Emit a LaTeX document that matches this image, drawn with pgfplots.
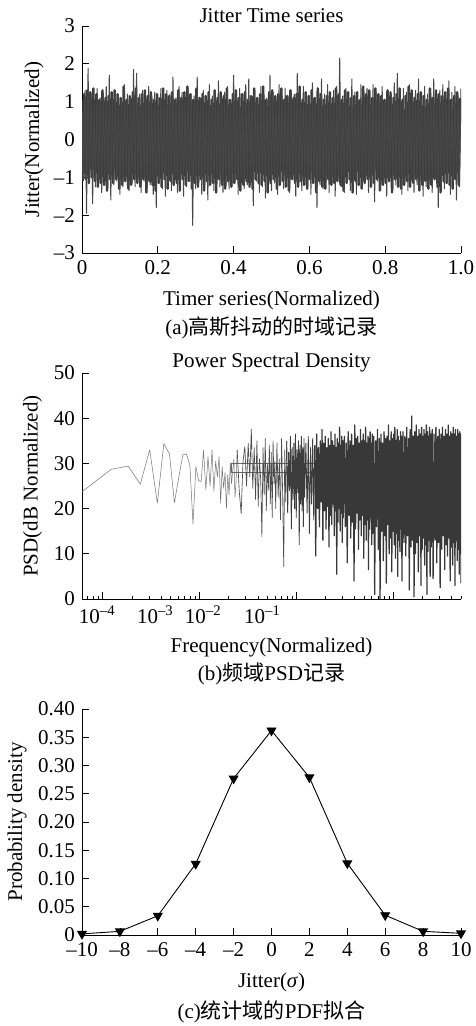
\documentclass[border=0pt]{standalone}
\usepackage{fontspec}
\setmainfont{Liberation Serif}
\newfontfamily\cjk{Noto Sans CJK SC}
\usepackage{pgfplots}
\pgfplotsset{compat=1.18}
\pgfplotsset{
  base/.style={scale only axis, width=379pt,
    axis x line=bottom, axis y line=left, axis line style={-, line width=0.7pt},
    tick align=inside, major tick length=7pt, minor tick length=3.5pt,
    tick style={black, line width=0.7pt},
    xlabel style={at={(axis description cs:0.5,0)}, anchor=center},
  }
}
\begin{document}
\fontsize{21}{25}\selectfont
\begin{tikzpicture}
\useasboundingbox (0pt,0pt) rectangle (476pt,-1026pt);
% ---------------- (a)
\begin{axis}[base, at={(82pt,-253pt)}, anchor=south west, height=227pt,
  xmin=0, xmax=1, ymin=-3, ymax=3,
  xtick={0,0.2,0.4,0.6,0.8,1}, xticklabels={0,0.2,0.4,0.6,0.8,1.0},
  ytick={-3,-2,-1,0,1,2,3}, yticklabels={–3,–2,–1,0,1,2,3},
  xlabel={Timer series(Normalized)}, xlabel style={yshift=-47pt},
  ylabel={Jitter(Normalized)}, ylabel style={at={(axis description cs:-0.1266,0.5)}, anchor=center},
]
\addplot[black!76, line width=2.4pt, line join=round] coordinates {
(0.002,-1.10)(0.006,1.20)(0.010,-1.05)(0.014,1.30)(0.018,-1.15)(0.022,1.25)(0.026,-1.00)(0.030,1.35)(0.034,-1.10)(0.038,1.20)
(0.042,-1.25)(0.046,1.05)(0.050,-1.15)(0.054,1.30)(0.058,-1.20)(0.062,1.10)(0.066,-1.35)(0.070,1.15)(0.074,-1.05)(0.078,1.25)
(0.082,-1.15)(0.086,1.30)(0.090,-1.05)(0.094,1.20)(0.098,-1.30)(0.102,1.10)(0.106,-1.20)(0.110,1.40)(0.114,-1.10)(0.118,1.05)
(0.122,-1.30)(0.126,1.15)(0.130,-1.20)(0.134,1.25)(0.138,-1.05)(0.142,1.35)(0.146,-1.15)(0.150,1.10)(0.154,-1.25)(0.158,1.20)
(0.162,-1.05)(0.166,1.30)(0.170,-1.40)(0.174,1.15)(0.178,-1.10)(0.182,1.25)(0.186,-1.20)(0.190,1.05)(0.194,-1.35)(0.198,1.20)
(0.202,-1.15)(0.206,1.10)(0.210,-1.25)(0.214,1.35)(0.218,-1.05)(0.222,1.20)(0.226,-1.30)(0.230,1.15)(0.234,-1.10)(0.238,1.25)
(0.242,-1.20)(0.246,1.05)(0.250,-1.15)(0.254,1.30)(0.258,-1.35)(0.262,1.10)(0.266,-1.05)(0.270,1.25)(0.274,-1.20)(0.278,1.40)
(0.282,-1.10)(0.286,1.20)(0.290,-1.30)(0.294,1.05)(0.298,-1.15)(0.302,1.35)(0.306,-1.25)(0.310,1.10)(0.314,-1.05)(0.318,1.20)
(0.322,-1.35)(0.326,1.15)(0.330,-1.10)(0.334,1.25)(0.338,-1.20)(0.342,1.05)(0.346,-1.15)(0.350,1.30)(0.354,-1.40)(0.358,1.10)
(0.362,-1.05)(0.366,1.25)(0.370,-1.20)(0.374,1.15)(0.378,-1.30)(0.382,1.35)(0.386,-1.10)(0.390,1.05)(0.394,-1.25)(0.398,1.20)
(0.402,-1.15)(0.406,1.30)(0.410,-1.05)(0.414,1.10)(0.418,-1.35)(0.422,1.20)(0.426,-1.20)(0.430,1.25)(0.434,-1.10)(0.438,1.05)
(0.442,-1.25)(0.446,1.15)(0.450,-1.30)(0.454,1.35)(0.458,-1.05)(0.462,1.10)(0.466,-1.15)(0.470,1.20)(0.474,-1.20)(0.478,1.40)
(0.482,-1.10)(0.486,1.05)(0.490,-1.40)(0.494,1.25)(0.498,-1.15)(0.502,1.30)(0.506,-1.05)(0.510,1.15)(0.514,-1.30)(0.518,1.20)
(0.522,-1.20)(0.526,1.35)(0.530,-1.10)(0.534,1.05)(0.538,-1.25)(0.542,1.15)(0.546,-1.35)(0.550,1.30)(0.554,-1.05)(0.558,1.10)
(0.562,-1.15)(0.566,1.20)(0.570,-1.25)(0.574,1.40)(0.578,-1.10)(0.582,1.05)(0.586,-1.20)(0.590,1.25)(0.594,-1.30)(0.598,1.15)
(0.602,-1.05)(0.606,1.30)(0.610,-1.15)(0.614,1.10)(0.618,-1.40)(0.622,1.35)(0.626,-1.10)(0.630,1.20)(0.634,-1.25)(0.638,1.05)
(0.642,-1.30)(0.646,1.15)(0.650,-1.05)(0.654,1.25)(0.658,-1.20)(0.662,1.10)(0.666,-1.15)(0.670,1.35)(0.674,-1.10)(0.678,1.20)
(0.682,-1.20)(0.686,1.05)(0.690,-1.35)(0.694,1.30)(0.698,-1.15)(0.702,1.25)(0.706,-1.05)(0.710,1.10)(0.714,-1.40)(0.718,1.15)
(0.722,-1.10)(0.726,1.25)(0.730,-1.20)(0.734,1.05)(0.738,-1.30)(0.742,1.40)(0.746,-1.15)(0.750,1.20)(0.754,-1.05)(0.758,1.30)
(0.762,-1.25)(0.766,1.10)(0.770,-1.15)(0.774,1.35)(0.778,-1.05)(0.782,1.20)(0.786,-1.35)(0.790,1.15)(0.794,-1.20)(0.798,1.05)
(0.802,-1.15)(0.806,1.30)(0.810,-1.10)(0.814,1.25)(0.818,-1.40)(0.822,1.10)(0.826,-1.05)(0.830,1.20)(0.834,-1.25)(0.838,1.35)
(0.842,-1.30)(0.846,1.05)(0.850,-1.20)(0.854,1.15)(0.858,-1.10)(0.862,1.40)(0.866,-1.25)(0.870,1.30)(0.874,-1.15)(0.878,1.10)
(0.882,-1.05)(0.886,1.20)(0.890,-1.35)(0.894,1.25)(0.898,-1.20)(0.902,1.15)(0.906,-1.10)(0.910,1.05)(0.914,-1.30)(0.918,1.35)
(0.922,-1.20)(0.926,1.10)(0.930,-1.05)(0.934,1.30)(0.938,-1.25)(0.942,1.20)(0.946,-1.40)(0.950,1.15)(0.954,-1.10)(0.958,1.25)
(0.962,-1.15)(0.966,1.35)(0.970,-1.20)(0.974,1.05)(0.978,-1.30)(0.982,1.15)(0.986,-1.05)(0.990,1.25)(0.994,-1.20)(0.998,1.10)};
\addplot[black!72, line width=1.0pt, line join=round] coordinates {
(0,1.05)(0.004,-0.95)(0.008,1.30)(0.012,-1.95)(0.016,1.89)(0.02,-1.10)(0.024,1.20)(0.028,-1.70)(0.032,0.95)(0.036,-1.25)
(0.04,1.35)(0.044,-1.05)(0.048,1.10)(0.052,-1.40)(0.056,1.25)(0.06,-0.98)(0.064,1.40)(0.068,-1.30)(0.072,1.70)(0.076,-1.60)
(0.08,1.05)(0.084,-1.20)(0.088,1.30)(0.092,-1.10)(0.096,1.15)(0.1,-1.45)(0.104,1.00)(0.108,-1.25)(0.112,1.45)(0.116,-1.05)
(0.12,1.20)(0.124,-1.35)(0.128,1.10)(0.132,-1.15)(0.136,1.85)(0.14,-1.25)(0.144,1.75)(0.148,-1.05)(0.152,1.20)(0.156,-1.40)
(0.16,1.30)(0.164,-1.10)(0.168,1.05)(0.172,-1.30)(0.176,1.40)(0.18,-1.20)(0.184,1.15)(0.188,-1.45)(0.192,1.25)(0.196,-1.80)
(0.2,1.10)(0.204,-1.15)(0.208,1.35)(0.212,-1.30)(0.216,1.05)(0.22,-1.50)(0.224,1.30)(0.228,-1.10)(0.232,1.20)(0.236,-1.35)
(0.24,1.65)(0.244,-1.20)(0.248,1.10)(0.252,-1.40)(0.256,1.40)(0.26,-1.05)(0.264,1.25)(0.268,-1.50)(0.272,1.05)(0.276,-1.25)
(0.28,1.35)(0.284,-1.10)(0.288,1.20)(0.292,-2.27)(0.296,1.15)(0.3,-1.30)(0.304,1.65)(0.308,-1.15)(0.312,1.10)(0.316,-1.45)
(0.32,1.30)(0.324,-1.20)(0.328,1.05)(0.332,-1.60)(0.336,1.45)(0.34,-1.10)(0.344,1.15)(0.348,-1.35)(0.352,1.30)(0.356,-1.05)
(0.36,1.55)(0.364,-1.25)(0.368,1.10)(0.372,-1.40)(0.376,1.25)(0.38,-1.15)(0.384,1.40)(0.388,-1.30)(0.392,1.05)(0.396,-1.20)
(0.4,1.70)(0.404,-1.10)(0.408,1.20)(0.412,-1.45)(0.416,1.35)(0.42,-1.05)(0.424,1.10)(0.428,-1.30)(0.432,1.45)(0.436,-1.20)
(0.44,1.60)(0.444,-1.15)(0.448,1.15)(0.452,-1.75)(0.456,1.30)(0.46,-1.10)(0.464,1.05)(0.468,-1.40)(0.472,1.40)(0.476,-1.25)
(0.48,1.20)(0.484,-1.55)(0.488,1.10)(0.492,-1.05)(0.496,1.70)(0.5,-1.35)(0.504,1.25)(0.508,-1.15)(0.512,1.05)(0.516,-1.45)
(0.52,1.45)(0.524,-1.10)(0.528,1.15)(0.532,-1.30)(0.536,1.35)(0.54,-1.20)(0.544,1.10)(0.548,-1.40)(0.552,1.30)(0.556,-1.05)
(0.56,1.20)(0.564,-1.50)(0.568,1.75)(0.572,-1.15)(0.576,1.05)(0.58,-1.35)(0.584,1.40)(0.588,-1.10)(0.592,1.25)(0.596,-1.25)
(0.6,1.15)(0.604,-1.45)(0.608,1.50)(0.612,-1.05)(0.616,1.10)(0.62,-1.80)(0.624,1.35)(0.628,-1.20)(0.632,1.60)(0.636,-1.30)
(0.64,1.20)(0.644,-1.10)(0.648,1.45)(0.652,-1.40)(0.656,1.05)(0.66,-1.15)(0.664,1.30)(0.668,-1.50)(0.672,1.40)(0.676,-1.05)
(0.68,2.15)(0.684,-1.25)(0.688,1.15)(0.692,-1.40)(0.696,1.35)(0.7,-1.10)(0.704,1.10)(0.708,-1.35)(0.712,1.60)(0.716,-1.20)
(0.72,1.25)(0.724,-1.45)(0.728,1.05)(0.732,-1.15)(0.736,1.45)(0.74,-1.30)(0.744,1.20)(0.748,-1.05)(0.752,1.35)(0.756,-1.40)
(0.76,1.10)(0.764,-1.20)(0.768,1.45)(0.772,-1.65)(0.776,1.25)(0.78,-1.10)(0.784,1.15)(0.788,-1.35)(0.792,1.40)(0.796,-1.15)
(0.8,1.05)(0.804,-1.50)(0.808,1.30)(0.812,-1.05)(0.816,1.20)(0.82,-1.30)(0.824,1.50)(0.828,-1.20)(0.832,1.75)(0.836,-1.10)
(0.84,1.10)(0.844,-1.45)(0.848,1.35)(0.852,-1.15)(0.856,1.25)(0.86,-1.35)(0.864,1.45)(0.868,-1.05)(0.872,1.15)(0.876,-1.40)
(0.88,1.30)(0.884,-1.20)(0.888,1.60)(0.892,-1.10)(0.896,1.05)(0.9,-1.50)(0.904,1.40)(0.908,-1.25)(0.912,1.20)(0.916,-1.15)
(0.92,1.35)(0.924,-1.40)(0.928,1.60)(0.932,-1.05)(0.936,1.15)(0.94,-1.80)(0.944,1.30)(0.948,-1.20)(0.952,1.45)(0.956,-1.30)
(0.96,1.10)(0.964,-1.15)(0.968,1.55)(0.972,-1.45)(0.976,1.25)(0.98,-1.10)(0.984,1.40)(0.988,-1.60)(0.992,1.20)(0.996,-1.25)
(1.0,1.35)};
\end{axis}
% ---------------- (b)
\begin{axis}[base, at={(82pt,-599pt)}, anchor=south west, height=226pt,
  xmode=log, xmin=1, xmax=8192, ymin=0, ymax=50,
  xtick={1.6384,16.384,163.84,1638.4}, xticklabels={,,,},
  minor xtick={1.147,1.311,1.475,3.277,4.915,6.554,8.192,9.830,11.469,13.107,14.746,32.77,49.15,65.54,81.92,98.30,114.69,131.07,147.46,327.7,491.5,655.4,819.2,983.0,1146.9,1310.7,1474.6,3276.8,4915.2,6553.6,8192},
  extra x ticks={1.43,5.69,17.8,72.7},
  extra x tick labels={10\textsuperscript{–4},10\textsuperscript{–3},10\textsuperscript{–2},10\textsuperscript{–1}},
  extra x tick style={major tick length=0pt},
  ytick={0,10,20,30,40,50}, yticklabels={0,10,20,30,40,50},
  xlabel={Frequency(Normalized)}, xlabel style={yshift=-48pt},
  ylabel={PSD(dB Normalized)}, ylabel style={at={(axis description cs:-0.1306,0.5)}, anchor=center},
]
\addplot[black!55, line width=0.5pt, line join=round] coordinates {
(1,23.7)(2,28.7)(3,29.4)(4,25.4)(5,33.0)(6,21.2)(7,34.4)(8,32.1)(9,21.3)(10,27.0)
(11,31.9)(12,32.1)(13,29.5)(14,16.6)(15,29.3)(16,26.2)(17,26.0)(18,32.9)(19,24.1)(20,31.5)
(21,25.0)(22,33.0)(23,23.8)(24,30.5)(25,27.0)(26,31.5)(27,21.2)(28,29.3)(29,24.5)(30,28.0)
(31,20.0)(32,27.5)(33,23.0)(34,30.2)(35,25.5)(36,28.5)(37,31.0)(38,22.5)(39,26.0)(40,33.0)};
\addplot[black!60, line width=0.5pt] coordinates {(367,30.1)(34.7,30.1)(34.7,28.1)(367,28.1)};
\addplot[black!70, line width=0.65pt, line join=round] coordinates {
(40,33.0)(42,24.0)(44,18.9)(46,30.5)(48,33.7)(50,25.0)(52,34.5)(54,27.0)(56,37.6)(58,24.5)(60,33.5)
(62,22.0)(64,35.0)(66,20.5)(68,31.0)(70,26.5)(72,13.8)(74,33.5)(76,23.0)(78,35.5)(80,19.5)
(82,30.0)(84,24.0)(86,34.0)(88,21.0)(90,32.5)(92,18.0)(94,35.0)(96,25.5)(98,30.5)(100,20.0)
(103,34.5)(106,22.5)(109,31.0)(112,17.5)(115,35.5)(118,23.0)(121,7.2)(124,33.0)(127,21.5)(130,35.0)};
\addplot[black!76, line width=0.85pt, line join=round] coordinates {
(130,35.0)
(133,19.0)(136,32.5)(139,24.0)(142,36.0)(145,15.5)(148,33.5)(151,22.0)(154,34.5)(157,20.0)(160,36.5)
(163,18.0)(166,33.0)(169,23.5)(172,35.0)(175,12.0)(178,34.0)(181,21.0)(184,36.0)(187,19.5)(190,33.5)
(193,16.0)(196,35.5)(199,22.5)
(205,34.5)(211,19.0)(217,36.0)(223,14.5)(229,33.5)(235,21.0)(241,35.5)(247,17.5)(253,34.0)};
\addplot[black!78, line width=1.25pt, line join=round] coordinates {
(253,34.0)(259,9.5)
(265,36.5)(271,20.0)(277,33.5)(283,16.0)(289,35.0)(295,21.5)(301,37.5)(307,13.0)(313,34.5)(319,19.5)
(325,36.0)(331,15.5)(337,33.5)(343,20.5)(349,35.5)(355,11.5)(361,34.0)(367,18.5)(373,37.0)(379,16.5)
(385,35.0)(391,21.0)(397,34.0)(403,14.0)(409,36.5)(415,19.5)(421,33.5)(427,5.5)(433,35.5)(439,17.0)
(445,34.5)(451,20.0)(457,38.0)(463,15.0)(469,34.0)(475,19.0)(481,36.0)(487,12.5)(493,35.0)(499,18.0)
(512,36.0)(524,16.0)(536,34.5)(548,8.0)(560,37.0)(572,18.5)(584,35.0)(596,13.5)(608,36.5)(620,17.0)
(632,34.0)(644,4.0)(656,38.5)(668,15.5)(680,35.5)(692,19.0)(704,36.0)(716,11.0)(728,34.5)(740,17.5)
(752,37.5)(764,14.0)(776,35.0)(788,18.5)(800,36.5)(812,9.0)(824,35.0)(836,16.5)(848,38.0)(860,13.0)
(872,34.5)(884,17.5)(896,36.0)(908,6.5)(920,35.5)(932,15.5)(944,37.0)(956,18.0)(968,34.5)(980,12.0)
(992,36.5)
(1004,14.5)(1028,36.0)(1052,1.0)(1076,35.0)(1100,16.0)(1124,37.5)(1148,11.0)(1172,35.5)(1196,0.0)(1220,36.5)
(1244,15.0)(1268,34.5)(1292,8.5)(1316,37.0)(1340,14.0)(1364,35.5)(1388,3.5)(1412,36.0)(1436,16.5)(1460,38.5)
(1484,10.0)(1508,35.0)(1532,13.5)(1556,37.0)(1580,6.0)(1604,35.5)(1628,15.0)(1652,36.5)(1676,12.0)(1700,38.0)
(1724,9.0)(1748,35.0)(1772,14.5)(1796,37.5)(1820,5.0)(1844,36.0)(1868,13.0)(1892,35.0)(1916,10.5)(1940,37.0)
(1964,15.5)(1988,36.0)
(2012,4.0)(2060,37.0)(2108,12.5)(2156,36.0)(2204,9.5)(2252,38.0)(2300,14.0)(2348,35.5)(2396,2.0)(2444,37.5)
(2492,11.5)(2540,40.5)(2588,13.0)(2636,36.0)(2684,0.5)(2732,37.0)(2780,10.0)(2828,38.5)(2876,12.5)(2924,36.0)
(2972,6.0)(3020,37.5)(3068,14.0)(3116,36.5)(3164,3.0)(3212,38.0)(3260,11.0)(3308,36.0)(3356,13.5)(3404,37.5)
(3452,7.5)(3500,36.5)(3548,12.0)(3596,38.5)(3644,1.0)(3692,37.0)(3740,10.5)(3788,36.0)(3836,13.0)(3884,38.0)
(3932,5.0)(3980,36.5)
(4028,11.5)(4124,37.5)(4220,4.5)(4316,36.5)(4412,13.0)(4508,38.0)(4604,8.0)(4700,36.0)(4796,12.5)(4892,37.5)
(4988,2.5)(5084,36.5)(5180,11.0)(5276,38.0)(5372,14.0)(5468,36.0)(5564,6.5)(5660,37.5)(5756,12.0)(5852,36.5)
(5948,9.5)(6044,38.5)(6140,13.5)(6236,36.0)(6332,4.0)(6428,37.0)(6524,11.5)(6620,36.5)(6716,7.5)(6812,38.0)
(6908,12.5)(7004,36.5)(7100,3.0)(7196,37.5)(7292,13.0)(7388,36.0)(7484,8.5)(7580,37.5)(7676,11.0)(7772,36.5)
(7868,5.5)(7964,37.0)(8060,12.0)(8156,36.5)(8192,3.5)};
\end{axis}
% ---------------- (c)
\begin{axis}[base, at={(82pt,-935pt)}, anchor=south west, height=226pt, clip=false,
  xmin=-10, xmax=10, ymin=0, ymax=0.40,
  xtick={-10,-8,-6,-4,-2,0,2,4,6,8,10}, xticklabels={–10,–8,–6,–4,–2,0,2,4,6,8,10},
  ytick={0,0.05,0.10,0.15,0.20,0.25,0.30,0.35,0.40},
  yticklabels={0,0.05,0.10,0.15,0.20,0.25,0.30,0.35,0.40},
  xlabel={Jitter(\textit{σ})}, xlabel style={yshift=-47.5pt},
  ylabel={Probability density}, ylabel style={at={(axis description cs:-0.1715,0.5)}, anchor=center},
]
\addplot[black, line width=0.9pt, mark=triangle*, mark size=5pt, mark options={rotate=180, fill=black, solid}] coordinates {
(-10,0.002)(-8,0.0065)(-6,0.034)(-4,0.126)(-2,0.277)(0,0.362)(2,0.279)(4,0.127)(6,0.035)(8,0.0065)(10,0.003)};
\end{axis}
% titles and captions
\node at (271.5pt,-16pt) {Jitter Time series};
\node at (271.5pt,-328pt) {(a){\cjk 高斯抖动的时域记录}};
\node at (271.5pt,-362.5pt) {Power Spectral Density};
\node at (271.5pt,-674pt) {(b){\cjk 频域}PSD{\cjk 记录}};
\node at (271.5pt,-1012pt) {(c){\cjk 统计域的}PDF{\cjk 拟合}};
\end{tikzpicture}
\end{document}
